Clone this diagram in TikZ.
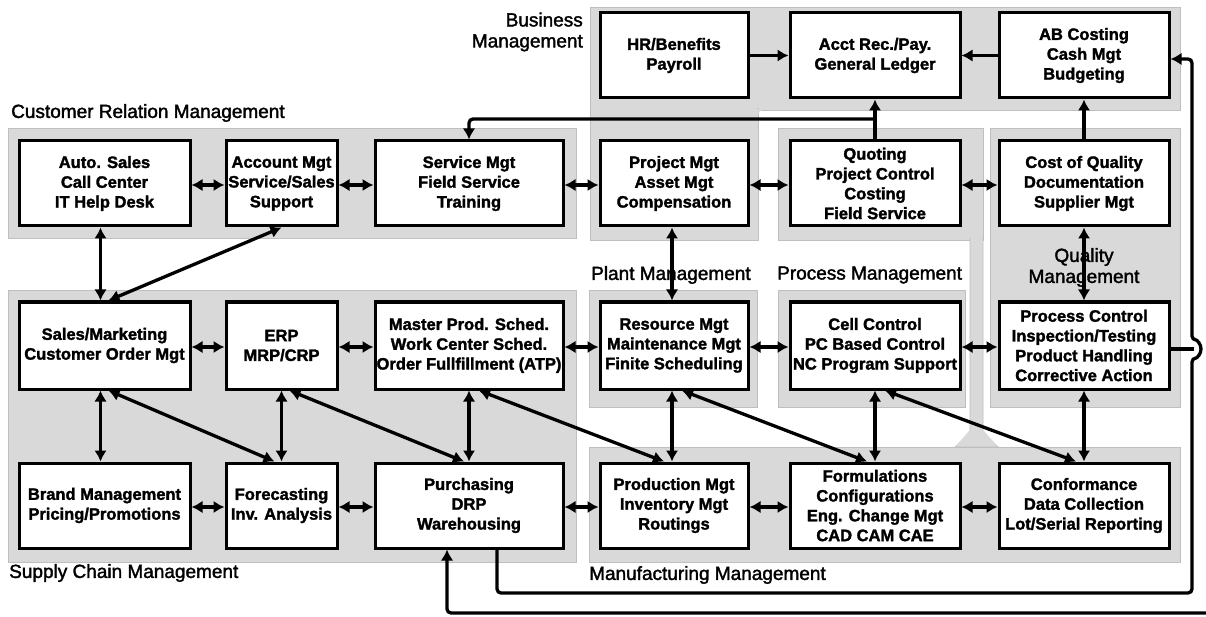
\documentclass[tikz,border=0pt]{standalone}
\usepackage{fontspec}
\setmainfont{Liberation Sans}
\newfontfamily\boxfont[FakeBold=1.8]{Liberation Sans Bold}
\newfontfamily\areafont[FakeBold=1.8]{Liberation Sans}
\usetikzlibrary{arrows.meta,calc}
\definecolor{panelgray}{RGB}{217,217,217}

\begin{document}
\begin{tikzpicture}[x=1pt,y=-1pt,
  panel/.style={fill=panelgray,draw=panelgray!88!black,line width=0.7pt},
  box/.style={draw=black,fill=white,line width=3pt,inner sep=0pt,align=center,
    font=\boxfont\fontsize{16.5}{19.8}\selectfont},
  lbl/.style={inner sep=0pt,font=\areafont\fontsize{19}{21}\selectfont},
  tip/.tip={Latex[length=11pt,width=12.5pt]},
  link/.style={line width=3.3pt},
  one/.style={link,-tip},
  both/.style={link,tip-tip},
]
\useasboundingbox (0,0) rectangle (1206,617);

% ---- grey management areas
\fill[panel] (590,7) rectangle (1180,110);      % business, top band
\fill[panel] (590,108) rectangle (758,240);     % business, left column
\fill[panelgray] (591,100) rectangle (757,115);
\fill[panelgray] (757,109) -- (757,118) arc[start angle=180,end angle=90,radius=9pt] -- cycle;
\fill[panel] (778,128) rectangle (983,240);     % quoting area
\fill[panel] (970,238) -- (983,238) -- (983,432) -- (998,447) -- (955,447) -- (970,432) -- cycle;
\fill[panel] (990,128) rectangle (1180,407);    % quality management
\fill[panel] (8,128) rectangle (576,238);       % customer relation management
\fill[panel] (8,290) rectangle (576,562);       % supply chain management
\fill[panel] (589,290) rectangle (757,407);     % plant management
\fill[panel] (778,290) rectangle (965,407);     % process management
\fill[panel] (589,447) rectangle (1180,562);    % manufacturing management
\fill[panelgray] (956,446) -- (997,446) -- (984,431) -- (969,431) -- cycle;
\fill[panelgray] (971,237) rectangle (982,250);

% ---- area titles
\node[lbl,align=right,anchor=east] (tBM) at (583,32) {Business\\Management};
\node[lbl,anchor=west] (tCRM) at (11,113) {Customer Relation Management};
\node[lbl,anchor=west] (tPM) at (591,275) {Plant Management};
\node[lbl,anchor=west] (tPrM) at (777,275) {Process Management};
\node[lbl,anchor=west] (tSCM) at (9,573) {Supply Chain Management};
\node[lbl,anchor=west] (tMM) at (589,575) {Manufacturing Management};

% ---- row A: business
\node[box,minimum width=148pt,minimum height=85pt] (hr) at (674,55.5) {HR/Benefits\\Payroll};
\node[box,minimum width=170pt,minimum height=85pt] (acct) at (875,55.5) {Acct Rec./Pay.\\General Ledger};
\node[box,minimum width=170pt,minimum height=85pt] (abc) at (1084,55.5) {AB Costing\\Cash Mgt\\Budgeting};

% ---- row B
\node[box,minimum width=171pt,minimum height=85pt] (auto) at (104.5,183.5) {Auto. Sales\\Call Center\\IT Help Desk};
\node[box,minimum width=111pt,minimum height=85pt] (acctmgt) at (281.5,183.5) {Account Mgt\\Service/Sales\\Support};
\node[box,minimum width=188pt,minimum height=85pt] (service) at (469,183.5) {Service Mgt\\Field Service\\Training};
\node[box,minimum width=148pt,minimum height=85pt] (project) at (674,183.5) {Project Mgt\\Asset Mgt\\Compensation};
\node[box,minimum width=170pt,minimum height=85pt] (quoting) at (875,183.5) {Quoting\\Project Control\\Costing\\Field Service};
\node[box,minimum width=170pt,minimum height=85pt] (coq) at (1084,183.5) {Cost of Quality\\Documentation\\Supplier Mgt};

% ---- row C
\node[box,minimum width=171pt,minimum height=87pt] (sales) at (104.5,345.5) {Sales/Marketing\\Customer Order Mgt};
\node[box,minimum width=111pt,minimum height=87pt] (erp) at (281.5,345.5) {ERP\\MRP/CRP};
\node[box,minimum width=188pt,minimum height=87pt] (mps) at (469,345.5) {Master Prod. Sched.\\Work Center Sched.\\Order Fullfillment (ATP)};
\node[box,minimum width=148pt,minimum height=87pt] (resource) at (674,345.5) {Resource Mgt\\Maintenance Mgt\\Finite Scheduling};
\node[box,minimum width=170pt,minimum height=87pt] (cell) at (875,345.5) {Cell Control\\PC Based Control\\NC Program Support};
\node[box,minimum width=170pt,minimum height=87pt] (pctrl) at (1084,345.5) {Process Control\\Inspection/Testing\\Product Handling\\Corrective Action};

% ---- row D
\node[box,minimum width=171pt,minimum height=85pt] (brand) at (104.5,505.5) {Brand Management\\Pricing/Promotions};
\node[box,minimum width=111pt,minimum height=85pt] (forecast) at (281.5,505.5) {Forecasting\\Inv. Analysis};
\node[box,minimum width=188pt,minimum height=85pt] (purch) at (469,505.5) {Purchasing\\DRP\\Warehousing};
\node[box,minimum width=148pt,minimum height=85pt] (prod) at (674,505.5) {Production Mgt\\Inventory Mgt\\Routings};
\node[box,minimum width=170pt,minimum height=85pt] (formul) at (875,505.5) {Formulations\\Configurations\\Eng. Change Mgt\\CAD CAM CAE};
\node[box,minimum width=170pt,minimum height=85pt] (conform) at (1084,505.5) {Conformance\\Data Collection\\Lot/Serial Reporting};

% ---- business flows
\draw[one] (hr.east) -- (acct.west);
\draw[one] (abc.west) -- (acct.east);
\draw[one] (quoting.north) -- (acct.south);
\coordinate (qjoin) at ($(quoting.north)+(0,-20.5)$);
\draw[one,rounded corners=4pt] (qjoin) -| (service.north);
\draw[one] (coq.north) -- (abc.south);

% ---- horizontal links
\draw[both] ([yshift=-1.5pt]auto.east) -- ([yshift=-1.5pt]acctmgt.west);
\draw[both] ([yshift=-1.5pt]acctmgt.east) -- ([yshift=-1.5pt]service.west);
\draw[both] ([yshift=-1.5pt]service.east) -- ([yshift=-1.5pt]project.west);
\draw[both] ([yshift=-1.5pt]project.east) -- ([yshift=-1.5pt]quoting.west);
\draw[both] ([yshift=-1.5pt]quoting.east) -- ([yshift=-1.5pt]coq.west);
\draw[both] ([yshift=-1.5pt]sales.east) -- ([yshift=-1.5pt]erp.west);
\draw[both] ([yshift=-1.5pt]erp.east) -- ([yshift=-1.5pt]mps.west);
\draw[both] ([yshift=-1.5pt]mps.east) -- ([yshift=-1.5pt]resource.west);
\draw[both] ([yshift=-1.5pt]resource.east) -- ([yshift=-1.5pt]cell.west);
\draw[both] ([yshift=-1.5pt]cell.east) -- ([yshift=-1.5pt]pctrl.west);
\draw[both] ([yshift=-1.5pt]brand.east) -- ([yshift=-1.5pt]forecast.west);
\draw[both] ([yshift=-1.5pt]forecast.east) -- ([yshift=-1.5pt]purch.west);
\draw[both] ([yshift=-1.5pt]purch.east) -- ([yshift=-1.5pt]prod.west);
\draw[both] ([yshift=-1.5pt]prod.east) -- ([yshift=-1.5pt]formul.west);
\draw[both] ([yshift=-1.5pt]formul.east) -- ([yshift=-1.5pt]conform.west);

% ---- vertical and diagonal links
\draw[both] ([xshift=-4pt]auto.south) -- ([xshift=-4pt]sales.north);
\draw[both] ([xshift=4pt]sales.north) -- (acctmgt.south);
\draw[both] ([xshift=-2pt]project.south) -- ([xshift=-2pt]resource.north);
\draw[both] (coq.south) -- (pctrl.north);
\node[lbl,align=center] (tQM) at (1084,267.5) {Quality\\Management};

\draw[both] ([xshift=-4pt]sales.south) -- ([xshift=-4pt]brand.north);
\draw[both] ([xshift=4pt]sales.south) -- ([xshift=-7pt]forecast.north);
\draw[both] (erp.south) -- (forecast.north);
\draw[both] ([xshift=8pt]erp.south) -- ([xshift=-5pt]purch.north);
\draw[both] (mps.south) -- (purch.north);
\draw[both] ([xshift=10pt]mps.south) -- ([xshift=-10pt]prod.north);
\draw[both] ([xshift=-2pt]resource.south) -- ([xshift=-2pt]prod.north);
\draw[both] ([xshift=8pt]resource.south) -- ([xshift=-8pt]formul.north);
\draw[both] (cell.south) -- (formul.north);
\draw[both] ([xshift=10pt]cell.south) -- ([xshift=-8pt]conform.north);
\draw[both] (pctrl.south) -- (conform.north);

% ---- return loops along the right edge and the bottom
\coordinate (loopA) at (1192,593);
\coordinate (hopLow) at (1192,358);
\draw[one,rounded corners=4pt] ([xshift=28pt]purch.south) |- (loopA) -- (hopLow)
  arc[start angle=-90,end angle=90,radius=9pt] |- ([yshift=-3.5pt]abc.east);
\coordinate (stubEnd) at (1194,349);
\draw[link] ([yshift=-3.5pt]pctrl.east) -- (stubEnd);
\coordinate (edgeR) at (1207,613);
\draw[one,rounded corners=4pt] (edgeR) -| ([xshift=-22pt]purch.south);
\end{tikzpicture}
\end{document}
